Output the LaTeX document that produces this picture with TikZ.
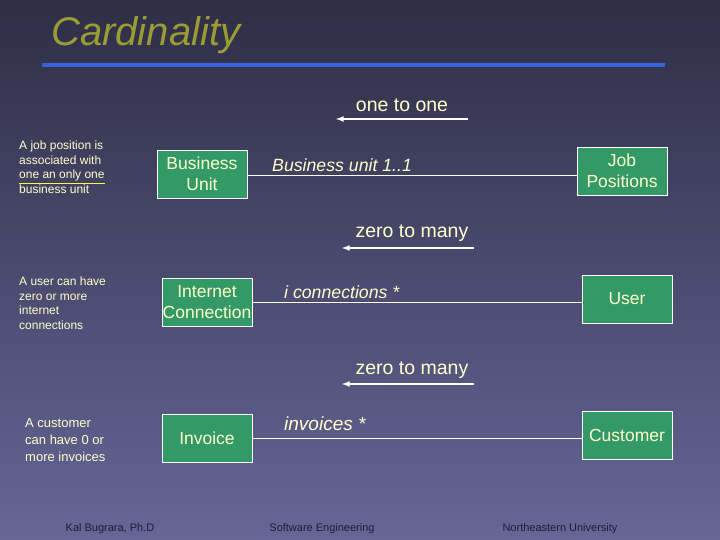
\documentclass[tikz,border=0pt]{standalone}
\usepackage{fontspec}
\setmainfont{Liberation Sans}
\usepackage{tikz}
\definecolor{boxgreen}{HTML}{339966}
\definecolor{paleyellow}{HTML}{FFFFCC}
\definecolor{titleolive}{HTML}{9C9C34}
\definecolor{rulerblue}{HTML}{3A62DA}
\definecolor{bgtop}{HTML}{2E2E46}
\definecolor{bgbottom}{HTML}{666698}
\definecolor{footnavy}{HTML}{1C1C36}

\begin{document}
\begin{tikzpicture}[x=1pt,y=-1pt,
  entity/.style = {draw=white, line width=0.8pt, fill=boxgreen, text=paleyellow, minimum width=90pt, minimum height=48pt, inner sep=0pt, align=center, font=\fontsize{17.5}{21}\selectfont},
  note/.style = {anchor=north west, text=paleyellow, align=left, inner sep=0pt},
  kind/.style = {text=paleyellow, font=\fontsize{19.5}{22}\selectfont, inner sep=0pt},
  role/.style = {anchor=west, text=paleyellow, inner sep=0pt, font=\fontsize{17.7}{20}\selectfont\itshape},
  foot/.style = {text=footnavy, font=\fontsize{11}{13}\selectfont, inner sep=0pt}]
\shade[top color=bgtop, bottom color=bgbottom] (0,0) rectangle (720,540);
\useasboundingbox (0,0) rectangle (720,540);

\node[anchor=west, text=titleolive, inner sep=0pt, font=\fontsize{40}{42}\selectfont\itshape] (title) at (51,35) {Cardinality};
\draw[rulerblue, line width=4pt] (42,65) -- (665,65);

% one to one
\node[kind] (k1) at (402,105) {one to one};
\coordinate (k1r) at (468,119);
\coordinate (k1l) at (336,119);
\draw[white, line width=1.6pt, -latex] (k1r) -- (k1l);
\node[note, font=\fontsize{12}{14.5}\selectfont] (n1) at (19,141) {A job position is\\associated with\\{\color{yellow!70}\underline{\color{paleyellow}one an only one}}\\business unit};
\node[entity] (bu) at (202,174) {Business\\Unit};
\node[entity] (jp) at (622,171) {Job\\Positions};
\draw[white, line width=0.6pt] (bu.east |- 0,175) -- (jp.west |- 0,175);
\node[role] (r1) at (272,165) {Business unit 1..1};

% zero to many
\node[kind] (k2) at (412,233) {zero to many};
\coordinate (k2r) at (474,248);
\coordinate (k2l) at (342,248);
\draw[white, line width=1.6pt, -latex] (k2r) -- (k2l);
\node[note, font=\fontsize{12}{14.5}\selectfont] (n2) at (19,277) {A user can have\\zero or more\\internet\\connections};
\node[entity] (ic) at (207,302) {Internet\\Connection};
\node[entity] (us) at (627,299) {User};
\draw[white, line width=0.6pt] (ic.east) -- (us.west |- ic.east);
\node[role] (r2) at (284,292) {i connections *};

% zero to many
\node[kind] (k3) at (412,370) {zero to many};
\coordinate (k3r) at (474,384);
\coordinate (k3l) at (342,384);
\draw[white, line width=1.6pt, -latex] (k3r) -- (k3l);
\node[note, font=\fontsize{13}{17}\selectfont] (n3) at (25,418) {A customer\\can have 0 or\\more invoices};
\node[entity] (iv) at (207,438) {Invoice};
\node[entity] (cu) at (627,435) {Customer};
\draw[white, line width=0.6pt] (iv.east) -- (cu.west |- iv.east);
\node[role, font=\fontsize{19}{21}\selectfont\itshape] (r3) at (284,424) {invoices *};

\node[foot] (f1) at (110,529) {Kal Bugrara, Ph.D};
\node[foot] (f2) at (322,529) {Software Engineering};
\node[foot] (f3) at (560,529) {Northeastern University};
\end{tikzpicture}
\end{document}
